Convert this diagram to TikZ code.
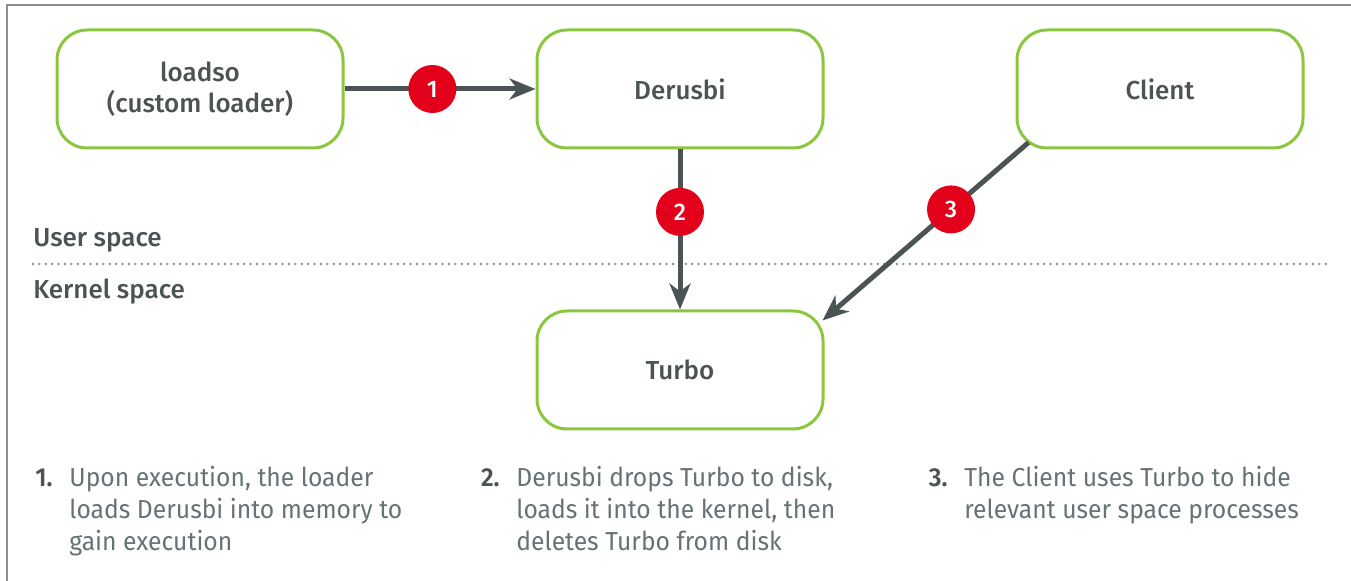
\documentclass[tikz,border=0pt]{standalone}
\usepackage{fontspec}
\setmainfont{Fira Sans}[BoldFont={Fira Sans Medium}]
\newfontfamily\notefont{Fira Sans}[FakeStretch=0.95, BoldFont={Fira Sans SemiBold}]
\usepackage{xcolor}
\usetikzlibrary{arrows.meta}

\definecolor{framegray}{HTML}{8A8F91}
\definecolor{boxgreen}{HTML}{8CC63F}
\definecolor{arrowgray}{HTML}{4B5355}
\definecolor{badgered}{HTML}{E2001A}
\definecolor{notegray}{HTML}{667274}
\definecolor{dotgray}{HTML}{7D8A8C}

\begin{document}
\begin{tikzpicture}[x=0.5pt, y=-0.5pt,
        procbox/.style={draw=boxgreen, line width=1.5pt, rounded corners=15pt,
            minimum width=143pt, minimum height=59pt, align=center,
            font=\fontsize{13}{15.5}\selectfont\bfseries, text=arrowgray},
        flow/.style={draw=arrowgray, line width=2.5pt,
            -{Stealth[length=13pt, width=10.5pt, inset=4pt]}},
        badge/.style={circle, fill=badgered, minimum size=24pt, inner sep=0pt,
            text=white, font=\fontsize{12}{12}\selectfont\bfseries},
        layer/.style={anchor=west, text=arrowgray, inner sep=0pt,
            font=\fontsize{13}{15}\selectfont\bfseries},
        note/.style={anchor=north west, align=left, inner sep=0pt, text=notegray,
            font=\fontsize{13}{16}\notefont}]
        \useasboundingbox (0, 0) rectangle (1351, 581);
        \draw[framegray, line width=0.75pt] (1351, 5) -- (7, 5) -- (7, 581);

        \node[procbox] (loadso) at (200, 89) {loadso\\(custom loader)};
        \node[procbox] (derusbi) at (680, 89) {Derusbi};
        \node[procbox] (client) at (1160, 89) {Client};
        \node[procbox] (turbo) at (680, 370) {Turbo};

        \draw[dotgray, line width=1.3pt, line cap=round, dash pattern=on 0pt off 3.2pt]
            (33, 264) -- (1328, 264);
        \node[layer] (user) at (33, 240) {User space};
        \node[layer] (kernel) at (33, 292) {Kernel space};

        \draw[flow] (loadso) -- (derusbi) node[badge, pos=0.46] (b1) {1};
        \draw[flow] (derusbi) -- (turbo) node[badge, pos=0.39] (b2) {2};
        \draw[flow] ([shift={(13,-7)}]client.south west) -- ([shift={(-2,11)}]turbo.north east)
            node[badge, pos=0.376] (b3) {3};

        \node[note] (n1) at (69, 464) {\strut Upon execution, the loader\\loads Derusbi into memory to\\gain execution};
        \node[note, anchor=north east, text=arrowgray] at ([xshift=-8pt]n1.north west) {\strut\bfseries 1.};
        \node[note] (n2) at (516, 464) {\strut Derusbi drops Turbo to disk,\\loads it into the kernel, then\\deletes Turbo from disk};
        \node[note, anchor=north east, text=arrowgray] at ([xshift=-8pt]n2.north west) {\strut\bfseries 2.};
        \node[note] (n3) at (964, 464) {\strut The Client uses Turbo to hide\\relevant user space processes};
        \node[note, anchor=north east, text=arrowgray] at ([xshift=-8pt]n3.north west) {\strut\bfseries 3.};
    \end{tikzpicture}
\end{document}
